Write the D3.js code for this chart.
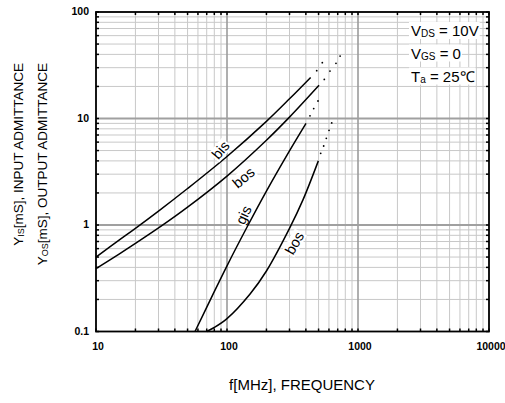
<!DOCTYPE html>
<html>
<head>
<meta charset="utf-8">
<script src="https://cdnjs.cloudflare.com/ajax/libs/d3/7.8.5/d3.min.js"></script>
<style>
  body { margin: 0; background: #fff; }
  text { font-family: "Liberation Sans", Arial, sans-serif; }
</style>
</head>
<body>
<div id="chart-area"></div>
<script>
// values (f in MHz, admittance in mS)
var bisFreq = [10, 15, 20, 30, 50, 100, 200, 300, 435];
var bisVal  = [0.50, 0.72, 0.93, 1.35, 2.20, 4.40, 9.4, 15.3, 24.3];
var bosFreq = [10, 15, 20, 32, 50, 100, 200, 300, 504];
var bosVal  = [0.39, 0.533, 0.671, 0.99, 1.47, 2.88, 6.25, 10.3, 20.5];
var gisFreq = [57, 76, 100, 145, 200, 303, 401];
var gisVal  = [0.1, 0.208, 0.414, 1.0, 2.08, 5.07, 9.0];
var bos2Freq = [70, 80, 100, 150, 200, 300, 380, 498];
var bos2Val  = [0.1, 0.109, 0.132, 0.225, 0.37, 0.93, 1.72, 4.0];

// dotted continuations
var bisDotF = [484, 534];
var bisDotV = [28.1, 33.4];
var bosDotF = [553, 611, 679, 730];
var bosDotV = [23.3, 27.9, 33.0, 38.6];
var gisDotF = [430, 459, 495];
var gisDotV = [10.6, 12.4, 14.6];
var bos2DotF = [519, 547, 573, 601, 630];
var bos2DotV = [4.71, 5.52, 6.52, 7.74, 9.08];

var xTicks = [10, 100, 1000, 10000];
var xTickLabels = ["10", "100", "1000", "10000"];
var yTicks = [0.1, 1, 10, 100];
var yTickLabels = ["0.1", "1", "10", "100"];

var W = 505, H = 403;
var margin = { left: 96, right: 16, top: 12, bottom: 71.5 };
var width = W - margin.left - margin.right;
var height = H - margin.top - margin.bottom;

var svg = d3.select("#chart-area").append("svg")
    .attr("width", W)
    .attr("height", H);

var x = d3.scaleLog().domain([10, 10000]).range([margin.left, margin.left + width]);
var y = d3.scaleLog().domain([0.1, 100]).range([margin.top + height, margin.top]);

var x0 = x.range()[0], x1 = x.range()[1];
var y0 = y.range()[1], y1 = y.range()[0];

// minor grid
var g = svg.append("g");
g.selectAll(".vg").data(x.ticks()).enter().append("line")
    .attr("x1", function (d) { return x(d); }).attr("x2", function (d) { return x(d); })
    .attr("y1", y0).attr("y2", y1)
    .attr("stroke", "#c8c8c8").attr("stroke-width", 1);
g.selectAll(".hg").data(y.ticks()).enter().append("line")
    .attr("y1", function (d) { return y(d); }).attr("y2", function (d) { return y(d); })
    .attr("x1", x0).attr("x2", x1)
    .attr("stroke", "#c8c8c8").attr("stroke-width", 1);

// decade lines
g.selectAll(".vm").data(xTicks.slice(1, 3)).enter().append("line")
    .attr("x1", function (d) { return x(d); }).attr("x2", function (d) { return x(d); })
    .attr("y1", y0).attr("y2", y1)
    .attr("stroke", "#8c8c8c").attr("stroke-width", 1.2);
g.selectAll(".hm").data(yTicks.slice(1, 3)).enter().append("line")
    .attr("y1", function (d) { return y(d); }).attr("y2", function (d) { return y(d); })
    .attr("x1", x0).attr("x2", x1)
    .attr("stroke", "#a0a0a0").attr("stroke-width", 2);

// small ticks on the frame
var tl = 3;
x.ticks().forEach(function (d) {
    g.append("line").attr("x1", x(d)).attr("x2", x(d)).attr("y1", y1).attr("y2", y1 - tl)
        .attr("stroke", "#000").attr("stroke-width", 1.5);
    g.append("line").attr("x1", x(d)).attr("x2", x(d)).attr("y1", y0).attr("y2", y0 + tl)
        .attr("stroke", "#000").attr("stroke-width", 1.5);
});
y.ticks().forEach(function (d) {
    g.append("line").attr("y1", y(d)).attr("y2", y(d)).attr("x1", x0).attr("x2", x0 + tl)
        .attr("stroke", "#000").attr("stroke-width", 1.5);
    g.append("line").attr("y1", y(d)).attr("y2", y(d)).attr("x1", x1).attr("x2", x1 - tl)
        .attr("stroke", "#000").attr("stroke-width", 1.5);
});

// frame
svg.append("rect")
    .attr("x", x0).attr("y", y0).attr("width", x1 - x0).attr("height", y1 - y0)
    .attr("fill", "none").attr("stroke", "#000").attr("stroke-width", 1.8);

// tick labels
svg.selectAll(".xl").data(xTicks).enter().append("text")
    .attr("x", function (d) { return x(d) + 2; })
    .attr("y", y1 + 18)
    .attr("text-anchor", "middle")
    .attr("font-size", "10.5px").attr("font-weight", "bold")
    .text(function (d, i) { return xTickLabels[i]; });
svg.selectAll(".yl").data(yTicks).enter().append("text")
    .attr("x", x0 - 7)
    .attr("y", function (d) { return y(d) + 3; })
    .attr("text-anchor", "end")
    .attr("font-size", "10.5px").attr("font-weight", "bold")
    .text(function (d, i) { return yTickLabels[i]; });

// curves
var line = d3.line()
    .x(function (d) { return x(d[0]); })
    .y(function (d) { return y(d[1]); })
    .curve(d3.curveCatmullRom.alpha(0.5));

function zip(a, b) { return a.map(function (v, i) { return [v, b[i]]; }); }

var series = [
    { f: bisFreq, v: bisVal, df: bisDotF, dv: bisDotV },
    { f: bosFreq, v: bosVal, df: bosDotF, dv: bosDotV },
    { f: gisFreq, v: gisVal, df: gisDotF, dv: gisDotV },
    { f: bos2Freq, v: bos2Val, df: bos2DotF, dv: bos2DotV }
];

series.forEach(function (s) {
    svg.append("path")
        .attr("d", line(zip(s.f, s.v)))
        .attr("fill", "none").attr("stroke", "#000").attr("stroke-width", 1.5);
    svg.selectAll(null).data(zip(s.df, s.dv)).enter().append("circle")
        .attr("cx", function (d) { return x(d[0]); })
        .attr("cy", function (d) { return y(d[1]); })
        .attr("r", 0.9).attr("fill", "#000");
});

// curve labels
var labels = [
    { t: "bis", x: 220.5, y: 150, r: -50 },
    { t: "bos", x: 243.5, y: 177.5, r: -40 },
    { t: "gis", x: 243.5, y: 215, r: -65 },
    { t: "bos", x: 294.5, y: 243, r: -60 }
];
labels.forEach(function (l) {
    var lg = svg.append("g").attr("transform", "translate(" + l.x + "," + l.y + ") rotate(" + l.r + ")");
    var bg = lg.append("rect").attr("fill", "#fff");
    var t = lg.append("text")
        .attr("text-anchor", "middle").attr("dy", "0.35em")
        .attr("font-size", "14.5px")
        .text(l.t);
    var b = t.node().getBBox();
    bg.attr("x", b.x - 1).attr("y", b.y + 1).attr("width", b.width + 2).attr("height", b.height - 2);
});

// conditions
var cond = [
    { main: "V", sub: "DS", rest: " = 10V", y: 36 },
    { main: "V", sub: "GS", rest: " = 0", y: 58.5 },
    { main: "T", sub: "a", rest: " = 25\u2103", y: 81.5 }
];
cond.forEach(function (c) {
    var bg = svg.append("rect").attr("fill", "#fff");
    var t = svg.append("text").attr("x", 411).attr("y", c.y).attr("font-size", "15px");
    t.append("tspan").text(c.main);
    t.append("tspan").attr("font-size", "10px").attr("dy", 1).text(c.sub);
    t.append("tspan").attr("dy", -1).text(c.rest);
    var b = t.node().getBBox();
    bg.attr("x", b.x - 2).attr("y", b.y).attr("width", b.width + 3).attr("height", b.height);
});

// axis titles
svg.append("text")
    .attr("x", 302).attr("y", 390)
    .attr("text-anchor", "middle").attr("font-size", "15px")
    .text("f[MHz], FREQUENCY");

function yTitle(xpos, sub, rest) {
    var t = svg.append("text")
        .attr("transform", "translate(" + xpos + "," + 63 + ") rotate(-90)")
        .attr("text-anchor", "end").attr("font-size", "13.5px");
    t.append("tspan").text("Y");
    t.append("tspan").attr("font-size", "9px").attr("dy", 1).text(sub);
    t.append("tspan").attr("dy", -1).text(rest);
}
yTitle(23, "IS", "[mS], INPUT ADMITTANCE");
yTitle(47, "OS", "[mS], OUTPUT ADMITTANCE");
</script>
</body>
</html>
